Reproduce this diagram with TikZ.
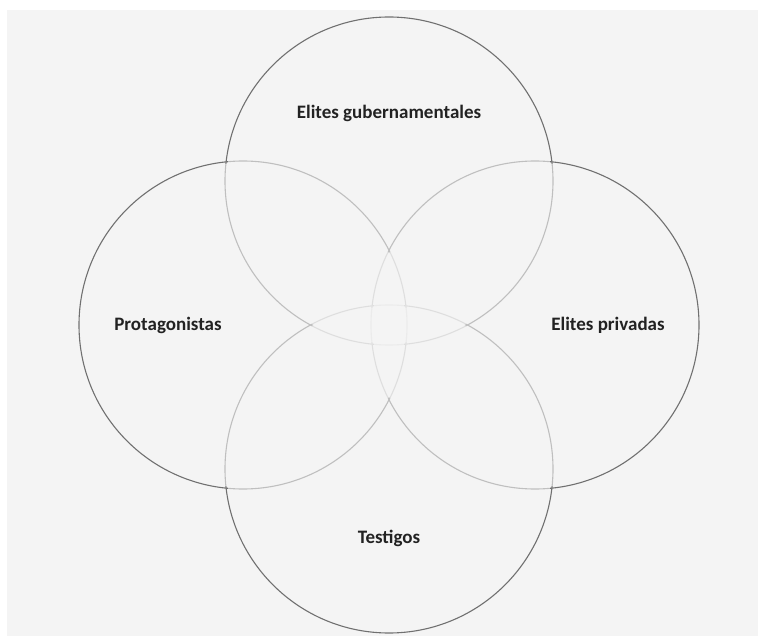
\documentclass[tikz,border=0pt]{standalone}
\usepackage{fontspec}
\setmainfont{Carlito}
\definecolor{bg}{HTML}{F4F4F4}
\definecolor{edge}{HTML}{707070}
\definecolor{txt}{HTML}{222222}
\begin{document}
\begin{tikzpicture}[x=1pt,y=-1pt,
  circ/.style={circle, draw=edge, line width=1.1pt, minimum size=328pt, inner sep=0pt},
  veil/.style={fill=bg, fill opacity=0.6},
  lbl/.style={font=\fontsize{19}{22}\selectfont\bfseries, text=txt, inner sep=0pt}]
\fill[white] (0,0) rectangle (758,636);
\fill[bg] (7,10) rectangle (758,636);
\useasboundingbox (0,0) rectangle (758,636);
\node[circ] (ctop) at (389,181) {};
\node[circ] (cleft) at (243,325) {};
\node[circ] (cright) at (535,325) {};
\node[circ] (cbot) at (389,469) {};
\foreach \c in {ctop,cleft,cright,cbot}
  \fill[veil] (\c.center) circle (162pt);
\node[lbl] (lgov) at (389,113) {Elites gubernamentales};
\node[lbl] (lpro) at (168,325) {Protagonistas};
\node[lbl] (lpri) at (608,325) {Elites privadas};
\node[lbl] (ltes) at (389,538) {Testigos};
\end{tikzpicture}
\end{document}
